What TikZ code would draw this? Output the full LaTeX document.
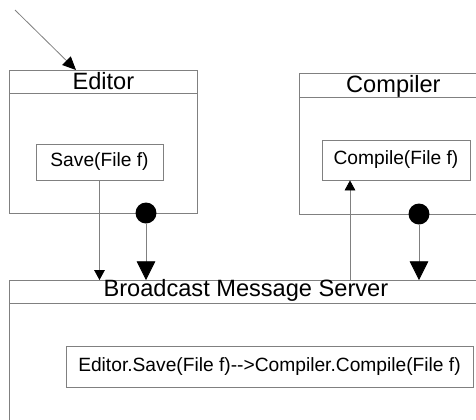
\documentclass[tikz,border=0pt]{standalone}
\usepackage{fontspec}
\setmainfont{Liberation Sans}[Ligatures=TeXOff]
\usetikzlibrary{arrows.meta,positioning}

\begin{document}
\begin{tikzpicture}[x=0.75pt,y=-0.75pt,>={Triangle[length=14pt,width=14pt,color=black]}]
        \tikzstyle{frame}=[rectangle,draw=black!50,line width=0.6pt,inner sep=0pt,anchor=north west]
        \tikzstyle{op}=[rectangle,draw=black!50,line width=0.6pt,inner sep=0pt,font=\fontsize{14.4}{16}\selectfont]
        \tikzstyle{title}=[anchor=base,inner sep=0pt,font=\fontsize{17.7}{20}\selectfont]
        \tikzstyle{dot}=[circle,fill=black,inner sep=0pt,minimum size=15.75pt]
        \tikzstyle{wire}=[draw=black!50,line width=0.6pt]
        \tikzstyle{small}=[-{Triangle[length=7.5pt,width=8pt,color=black]}]

        \useasboundingbox (0,0) rectangle (476,419);
        \clip (0,0) rectangle (476,419);

        % the two components
        \node [frame, minimum width=141pt, minimum height=107.25pt] (editor) at (9,70) {};
        \draw [wire] ([yshift=-17.7pt]editor.north west) -- ([yshift=-17.7pt]editor.north east);
        \node [title] (editorname) at ([yshift=-14.3pt]editor.north) {Editor};
        \node [op, minimum width=95.25pt, minimum height=27pt] (save) at (99.5,162) {Save(File f)};

        \node [frame, minimum width=141pt, minimum height=105.75pt] (compiler) at (299,73) {};
        \draw [wire] ([yshift=-18pt]compiler.north west) -- ([yshift=-18pt]compiler.north east);
        \node [title] (compilername) at ([yshift=-14.5pt]compiler.north) {Compiler};
        \node [op, minimum width=111pt, minimum height=30pt] (compile) at (396,160) {Compile(File f)};

        % the server
        \node [frame, minimum width=354.75pt, minimum height=127.5pt] (server) at (9,280) {};
        \draw [wire] ([yshift=-17.25pt]server.north west) -- ([yshift=-17.25pt]server.north east);
        \node [title] (servername) at ([yshift=-12.5pt]server.north) {Broadcast Message Server};
        \node [op, minimum width=305.25pt, minimum height=30.75pt] (rule) at (269.5,366.5) {Editor.Save(File f)-->Compiler.Compile(File f)};

        % event ports
        \node [dot] (edot) at (146,213) {};
        \node [dot] (cdot) at (419,214) {};

        \coordinate (user) at (15,10);
        \coordinate (upfoot) at (350,280);

        \draw [wire,-{Triangle[length=10pt,width=9pt,color=black]}] (user) -- ([xshift=50.25pt]editor.north west);
        \draw [wire,small] (save.south) -- (save.south |- server.north);
        \draw [wire,->] (edot) -- (edot |- server.north);
        \draw [wire,small] (upfoot) -- (upfoot |- compile.south);
        \draw [wire,->] (cdot) -- (cdot |- server.north);
    \end{tikzpicture}
\end{document}
